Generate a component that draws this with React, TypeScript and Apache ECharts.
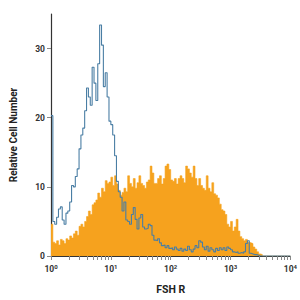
import React, { useEffect, useRef } from "react";
import * as echarts from "echarts";

// Histogram bins: 32 bins per decade from 10^0 to 10^4 (bin i starts at 10^(i/32))
const binsPerDecade = 32;

const isotypeCounts = [
  20.3, 5.0, 4.6, 5.6, 6.8, 7.1, 5.2, 4.6, 6.2, 6.5,
  7.8, 10.2, 10.0, 11.5, 12.6, 15.5, 17.5, 18.5, 21.0, 24.3,
  23.0, 21.8, 27.3, 25.0, 22.5, 27.8, 33.4, 30.5, 24.5, 26.5,
  23.0, 19.5, 19.0, 17.5, 14.5, 10.8, 9.3, 8.5, 6.5, 7.8,
  5.2, 5.0, 4.6, 6.0, 7.0, 5.3, 3.9, 5.5, 6.0, 4.2,
  3.9, 4.0, 4.6, 4.4, 3.0, 2.3, 2.2, 2.5, 1.9, 1.5,
  1.6, 1.2, 1.5, 1.1, 1.2, 0.9, 1.3, 1.0, 0.8, 1.1,
  0.7, 1.0, 0.8, 1.4, 0.9, 0.6, 1.0, 1.5, 1.2, 2.2,
  2.0, 1.3, 0.9, 1.4, 0.7, 1.2, 0.9, 0.6, 1.1, 0.8,
  1.2, 0.9, 1.2, 0.8, 1.3, 1.1, 0.9, 0.6, 0.5, 0.6,
  0.4, 0.5, 0.4, 0.6, 1.8, 2.2, 0.4, 0.3, 0.2, 0.2,
  0.1, 0, 0, 0, 0, 0, 0, 0, 0, 0,
  0, 0, 0, 0, 0, 0, 0, 0,
];

const fshrCounts = [
  4.6, 2.0, 1.8, 2.2, 1.6, 2.4, 2.2, 1.8, 2.5, 2.3,
  2.9, 2.6, 3.2, 3.6, 3.0, 4.3, 4.6, 4.2, 5.0, 5.7,
  6.5, 6.0, 7.4, 7.7, 8.1, 9.1, 8.5, 9.8, 9.3, 10.9,
  10.5, 10.7, 11.4, 10.2, 11.6, 10.4, 9.5, 8.8, 9.2, 9.8,
  9.3, 11.6, 10.5, 10.0, 11.2, 9.8, 10.6, 11.6, 10.5, 10.2,
  9.8, 10.7, 11.0, 13.0, 12.0, 10.5, 10.5, 11.2, 11.6, 10.4,
  11.2, 13.0, 13.3, 12.5, 11.0, 10.8, 11.2, 10.4, 11.2, 11.6,
  11.2, 10.6, 13.0, 12.6, 12.0, 11.4, 13.0, 11.2, 10.2, 11.2,
  10.2, 9.8, 9.5, 11.6, 9.8, 9.3, 10.6, 9.0, 8.8, 8.4,
  7.5, 6.7, 6.5, 6.0, 4.6, 4.2, 5.0, 3.6, 4.2, 5.3,
  3.6, 2.8, 2.5, 2.2, 2.4, 2.0, 1.9, 1.8, 1.3, 1.0,
  0.6, 0.3, 0.2, 0, 0, 0, 0, 0, 0, 0,
  0, 0, 0, 0, 0, 0, 0, 0,
];

const yTicks = [0, 10, 20, 30];
const xDecades = [1, 10, 100, 1000, 10000];
const xMinorTicks = [2, 3, 4, 5, 6, 7, 8, 9];

function toSeries(counts: number[]) {
  const pts: [number, number][] = counts.map((c, i) => [
    Math.pow(10, i / binsPerDecade),
    c,
  ]);
  pts.push([Math.pow(10, counts.length / binsPerDecade), 0]);
  return pts;
}

export default function App() {
  const ref = useRef<HTMLDivElement>(null);
  useEffect(() => {
    if (!ref.current) return;
    const chart = echarts.init(ref.current, null, { renderer: "svg" });
    const tickVals: number[] = [];
    xDecades.forEach((d, k) => {
      tickVals.push(d);
      if (k < xDecades.length - 1) xMinorTicks.forEach((m) => tickVals.push(m * d));
    });
    const font = "Roboto, 'Liberation Sans', sans-serif";
    chart.setOption({
      animation: false,
      backgroundColor: "#ffffff",
      grid: { left: 44, right: 6, top: 14, bottom: 37, containLabel: false },
      xAxis: {
        type: "log",
        logBase: 10,
        min: 1,
        max: 10000,
        name: "FSH R",
        nameLocation: "middle",
        nameGap: 28,
        nameTextStyle: { fontFamily: font, fontWeight: "bold", fontSize: 10.5, color: "#222" },
        axisLine: { show: true, lineStyle: { color: "#333", width: 1.2 } },
        axisTick: {
          show: true,
          length: 4,
          lineStyle: { color: "#888", width: 1 },
          customValues: tickVals,
        },
        axisLabel: {
          customValues: xDecades,
          margin: 7,
          formatter: (v: number) => `{b|10}{s|${Math.round(Math.log10(v))}}`,
          rich: {
            b: { fontFamily: font, fontWeight: "bold", fontSize: 8.5, color: "#333" },
            s: {
              fontFamily: font,
              fontWeight: "bold",
              fontSize: 6,
              color: "#333",
              verticalAlign: "bottom",
              padding: [0, 0, 5, 0],
            },
          },
        },
        splitLine: { show: false },
        minorSplitLine: { show: false },
      },
      yAxis: {
        type: "value",
        min: 0,
        max: 35,
        interval: 10,
        name: "Relative Cell Number",
        nameLocation: "middle",
        nameGap: 33,
        nameTextStyle: { fontFamily: font, fontWeight: "bold", fontSize: 10, color: "#222" },
        axisLine: { show: true, lineStyle: { color: "#333", width: 1.2 } },
        axisTick: { show: true, length: 4, lineStyle: { color: "#888" }, customValues: yTicks },
        axisLabel: {
          customValues: yTicks,
          margin: 6,
          fontFamily: font,
          fontWeight: "bold",
          fontSize: 8.5,
          color: "#333",
        },
        splitLine: { show: false },
      },
      series: [
        {
          type: "line",
          step: "end",
          data: toSeries(fshrCounts),
          symbol: "none",
          lineStyle: { width: 0.6, color: "#f5a21c" },
          areaStyle: { color: "#f6a21e", opacity: 1 },
          z: 2,
        },
        {
          type: "line",
          step: "end",
          data: toSeries(isotypeCounts),
          symbol: "none",
          lineStyle: { width: 1.1, color: "#4a7ea4" },
          z: 3,
        },
      ],
    });
    return () => chart.dispose();
  }, []);
  return (
    <div
      ref={ref}
      style={{ position: "fixed", left: 0, top: 0, width: 300, height: 300 }}
    />
  );
}
